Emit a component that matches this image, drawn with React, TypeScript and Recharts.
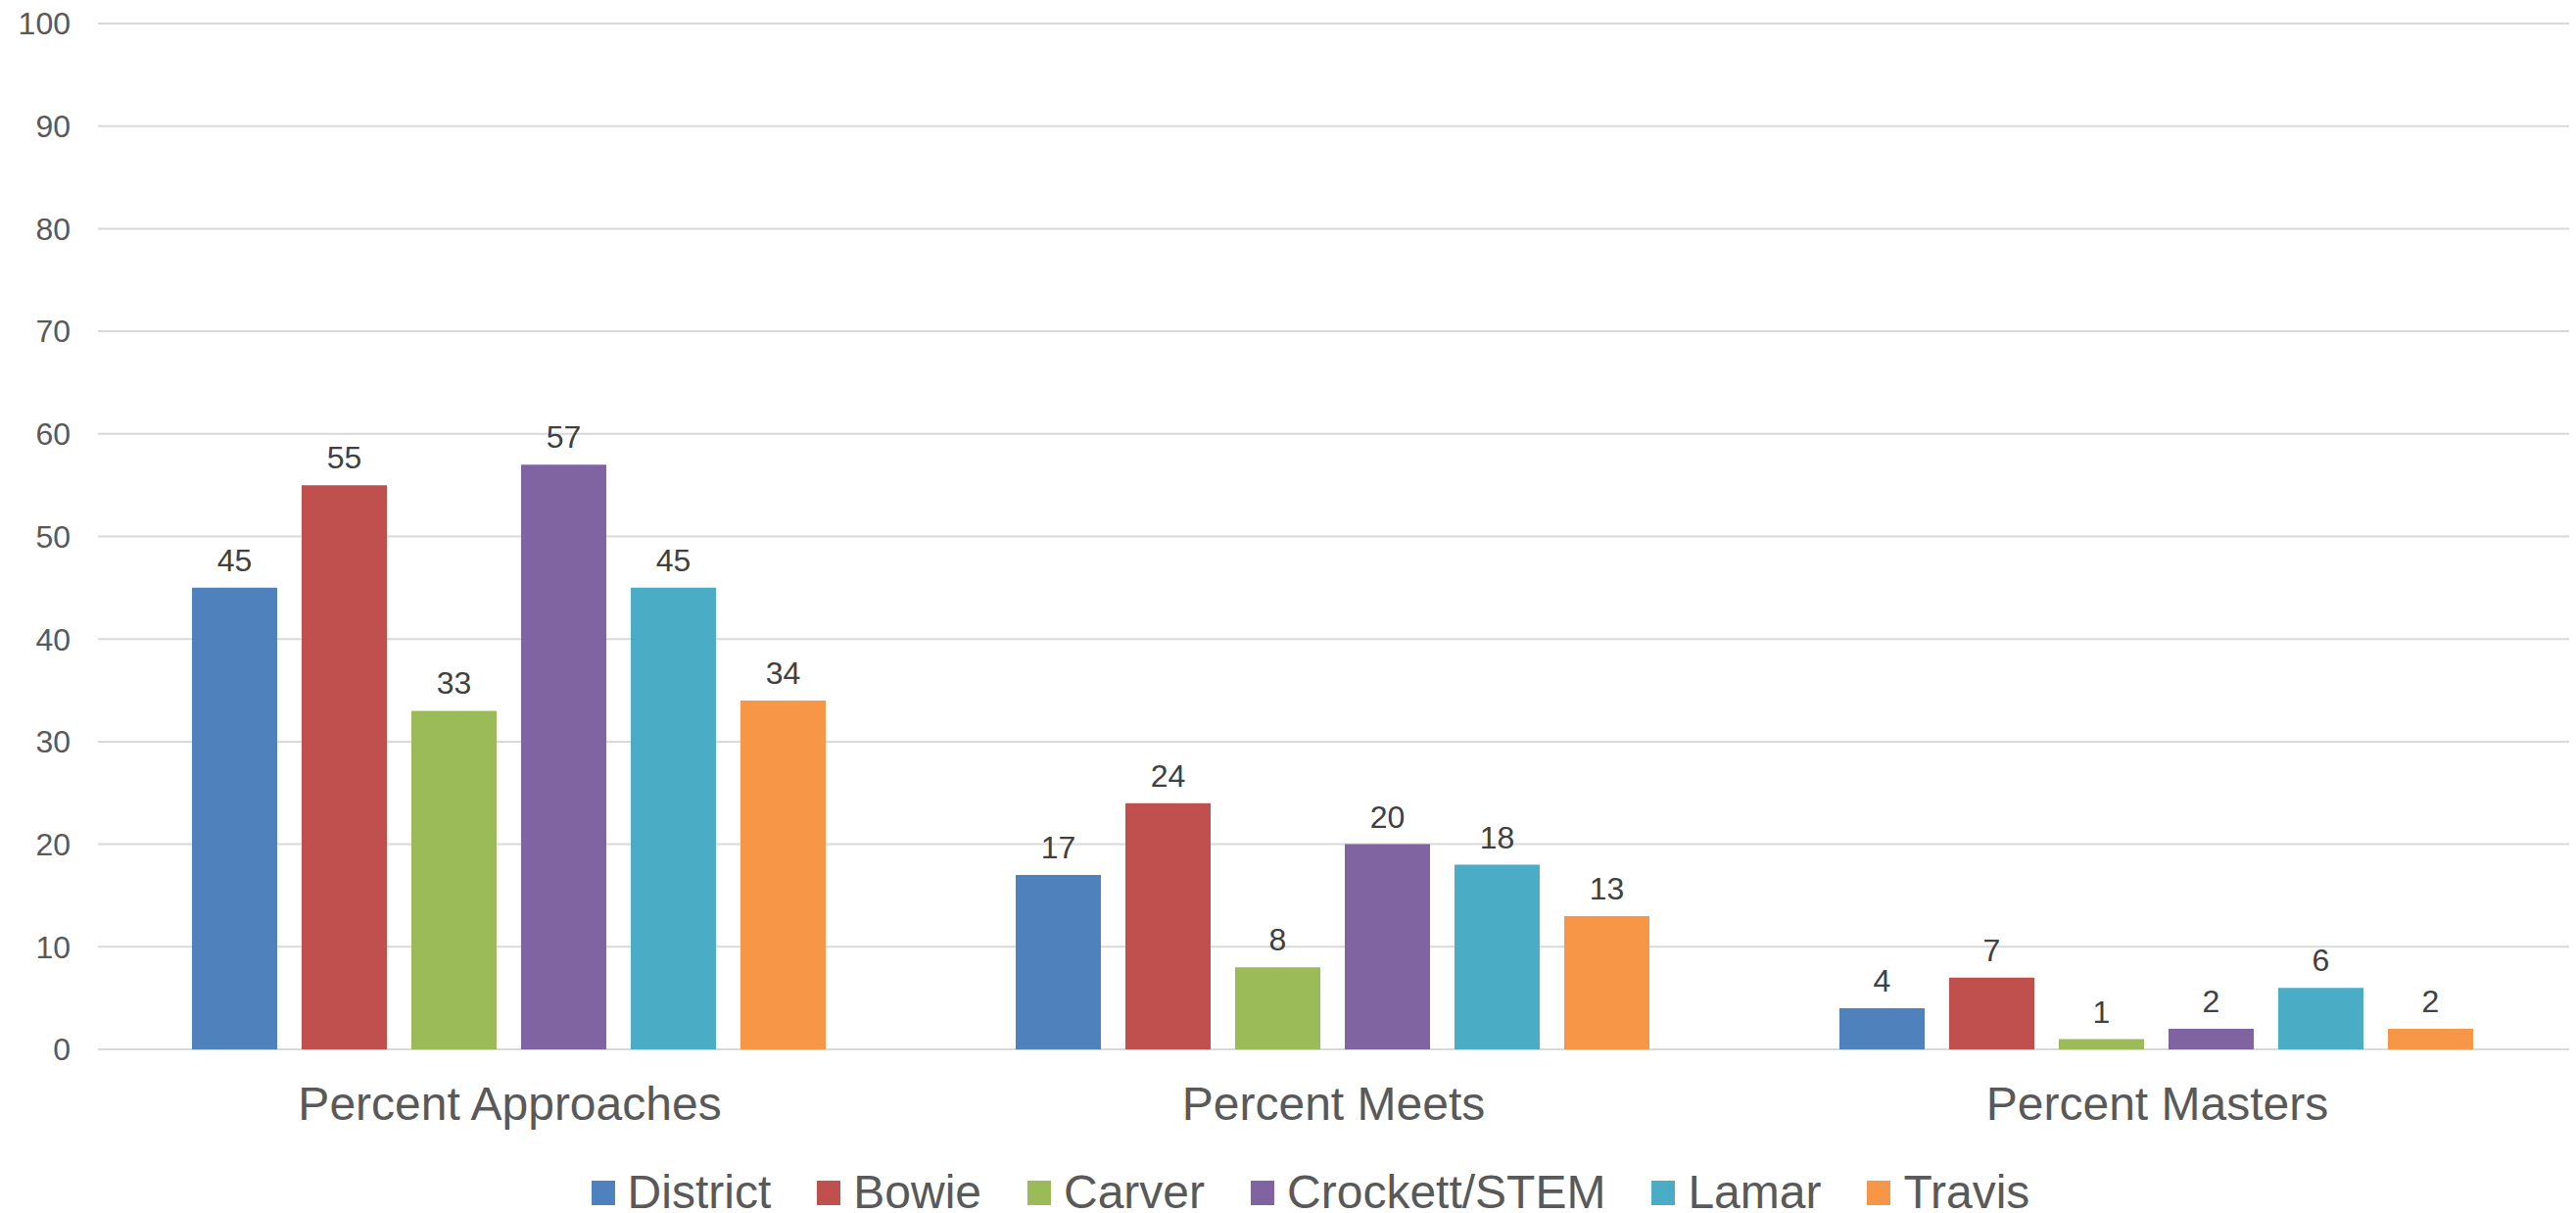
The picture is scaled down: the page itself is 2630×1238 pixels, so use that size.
import React from 'react';
import { BarChart, Bar, XAxis, YAxis, CartesianGrid, LabelList } from 'recharts';

const categories = ['Percent Approaches', 'Percent Meets', 'Percent Masters'];
const district = [45, 17, 4];
const bowie = [55, 24, 7];
const carver = [33, 8, 1];
const crockett = [57, 20, 2];
const lamar = [45, 18, 6];
const travis = [34, 13, 2];
const yTicks = [0, 10, 20, 30, 40, 50, 60, 70, 80, 90, 100];

const series = [
  { key: 'District', values: district, color: '#4F81BD' },
  { key: 'Bowie', values: bowie, color: '#C0504D' },
  { key: 'Carver', values: carver, color: '#9BBB59' },
  { key: 'Crockett/STEM', values: crockett, color: '#8064A2' },
  { key: 'Lamar', values: lamar, color: '#4BACC6' },
  { key: 'Travis', values: travis, color: '#F79646' },
];

const data = categories.map((name, i) => {
  const row: Record<string, string | number> = { name };
  series.forEach(s => { row[s.key] = s.values[i]; });
  return row;
});

const FONT = '"Liberation Sans", Arial, sans-serif';

// legend drawn by hand so it does not eat into the plot height
const ChartLegend: React.FC = () => (
  <div
    style={{
      position: 'absolute', left: 0, top: 1189, width: 2630, paddingLeft: 46, boxSizing: 'border-box',
      display: 'flex', justifyContent: 'center', alignItems: 'center', gap: 47,
      fontFamily: FONT, fontSize: 48, color: '#595959', lineHeight: '56px',
    }}
  >
    {series.map(s => (
      <div key={s.key} style={{ display: 'flex', alignItems: 'center' }}>
        <div style={{ width: 24, height: 25, backgroundColor: s.color, marginRight: 13 }} />
        <span>{s.key}</span>
      </div>
    ))}
  </div>
);

const App: React.FC = () => {
  return (
    <div style={{ position: 'absolute', left: 0, top: 0, width: 2630, height: 1238, background: '#fff' }}>
      <BarChart
        width={2630}
        height={1238}
        data={data}
        margin={{ top: 24, right: 7, bottom: 67, left: 0 }}
        barCategoryGap={96}
        barGap={25}
      >
        <CartesianGrid vertical={false} stroke="#d9d9d9" strokeWidth={2} />
        <XAxis
          dataKey="name"
          axisLine={false}
          tickLine={false}
          tickSize={0}
          tickMargin={38}
          height={100}
          tick={{ fill: '#595959', fontSize: 48, fontFamily: FONT }}
        />
        <YAxis
          domain={[0, 100]}
          ticks={yTicks}
          axisLine={false}
          tickLine={false}
          tickSize={0}
          tickMargin={28}
          width={100}
          tick={{ fill: '#595959', fontSize: 32, fontFamily: FONT }}
        />
        {series.map(s => (
          <Bar key={s.key} dataKey={s.key} fill={s.color} isAnimationActive={false}>
            <LabelList dataKey={s.key} position="top" offset={17} fill="#404040" fontSize={32} fontFamily={FONT} />
          </Bar>
        ))}
      </BarChart>
      <ChartLegend />
    </div>
  );
};

export default App;
